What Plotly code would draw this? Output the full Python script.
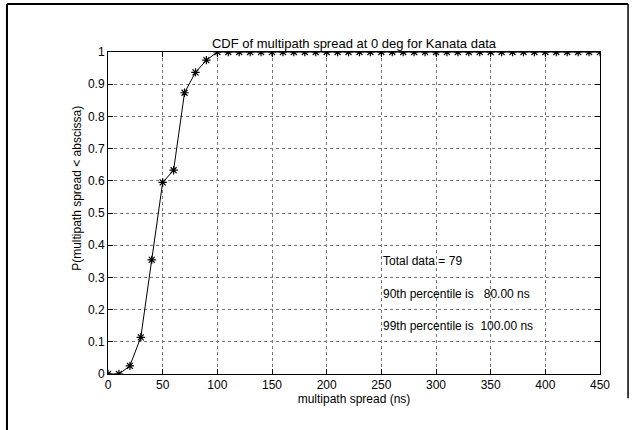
import plotly.graph_objects as go

spread_ns = [0, 10, 20, 30, 40, 50, 60, 70, 80, 90, 100, 110, 120, 130, 140, 150,
             160, 170, 180, 190, 200, 210, 220, 230, 240, 250, 260, 270, 280, 290,
             300, 310, 320, 330, 340, 350, 360, 370, 380, 390, 400, 410, 420, 430,
             440, 450]
counts = [0, 0, 2, 9, 28, 47, 50, 69, 74, 77] + [79] * 36
total = 79
cdf = [c / total for c in counts]

x_ticks = [0, 50, 100, 150, 200, 250, 300, 350, 400, 450]
y_ticks = [0, 0.1, 0.2, 0.3, 0.4, 0.5, 0.6, 0.7, 0.8, 0.9, 1]
y_tick_labels = ["0", "0.1", "0.2", "0.3", "0.4", "0.5", "0.6", "0.7", "0.8", "0.9", "1"]

notes = ["Total data = 79",
         "90th percentile is \u00a0 80.00 ns",
         "99th percentile is \u00a0100.00 ns"]
note_y = [0.35, 0.25, 0.15]
note_x = 250

FONT = "Liberation Sans, Arial, Helvetica, sans-serif"
FS = 12

fig = go.Figure()
fig.add_trace(go.Scatter(
    x=spread_ns, y=cdf, mode="lines+markers",
    line=dict(color="black", width=1),
    marker=dict(symbol="asterisk-open", size=7, color="black",
                line=dict(color="black", width=1.2)),
    showlegend=False, hoverinfo="skip"))

for t, yy in zip(notes, note_y):
    fig.add_annotation(x=note_x, y=yy, text=t, showarrow=False,
                       xanchor="left", yanchor="middle",
                       font=dict(family=FONT, size=FS, color="black"))

fig.add_annotation(x=-0.063, y=0.575, xref="paper", yref="paper",
                   text="P(multipath spread < abscissa)", textangle=-90,
                   showarrow=False, xanchor="center", yanchor="middle",
                   font=dict(family=FONT, size=FS, color="black"))

# outer frame
fig.add_shape(type="line", xref="paper", yref="paper", x0=-0.2053, x1=-0.2053,
              y0=1.149, y1=-0.2, line=dict(color="black", width=2))
fig.add_shape(type="line", xref="paper", yref="paper", x0=-0.2053, x1=1.057,
              y0=1.149, y1=1.149, line=dict(color="black", width=2))
fig.add_shape(type="line", xref="paper", yref="paper", x0=1.057, x1=1.057,
              y0=1.149, y1=-0.075, line=dict(color="black", width=1.5))

axis_common = dict(
    showline=True, linecolor="black", linewidth=1, mirror="ticks",
    ticks="inside", ticklen=5, tickcolor="black",
    showgrid=True, gridcolor="#777", gridwidth=1, griddash="dot",
    zeroline=False,
    tickfont=dict(family=FONT, size=FS, color="black"),
)

fig.update_xaxes(range=[0, 450], tickvals=x_ticks,
                 title=dict(text="multipath spread (ns)", standoff=1,
                            font=dict(family=FONT, size=FS, color="black")),
                 **axis_common)
fig.update_yaxes(range=[0, 1], tickvals=y_ticks, ticktext=y_tick_labels,
                 **axis_common)

fig.update_layout(
    width=639, height=430,
    margin=dict(l=108, r=39, t=52, b=56),
    paper_bgcolor="white", plot_bgcolor="white",
    title=dict(text="CDF of multipath spread at 0 deg for Kanata data",
               x=0.5, xref="paper", y=1, yref="paper", yanchor="bottom",
               pad=dict(b=4),
               font=dict(family=FONT, size=13, color="black")),
    font=dict(family=FONT, size=FS, color="black"),
)

fig.write_html("out.html")
